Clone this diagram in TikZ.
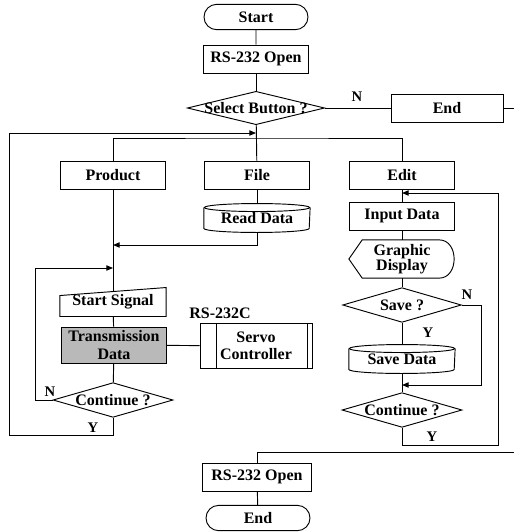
\documentclass[tikz,border=0pt]{standalone}
\usepackage{fontspec}
\setmainfont{Liberation Serif}
\usetikzlibrary{arrows.meta,calc,shapes.geometric,shapes.misc}

\tikzset{
 every node/.style={font=\bfseries\fontsize{12}{13}\selectfont},
 procbox/.style={draw,rectangle,minimum width=79pt,minimum height=21pt,inner sep=1pt},
 plainbox/.style={rectangle,minimum width=79pt,minimum height=21pt,inner sep=1pt},
 termbox/.style={draw,rounded rectangle,minimum width=80pt,minimum height=19pt,inner sep=1pt},
 decbox/.style={draw,diamond,minimum width=90pt,minimum height=26pt,inner sep=0pt},
 yn/.style={inner sep=0pt,font=\bfseries\fontsize{11}{12}\selectfont},
}

\begin{document}
\begin{tikzpicture}[x=.75pt,y=-.75pt,>={Triangle[length=5pt,width=4pt]},line width=.7pt]
 \useasboundingbox (0,0) rectangle (514,532);
 % main column
 \node[termbox] (start) at (256,17) {Start};
 \node[procbox] (open1) at (256,59) {RS-232 Open};
 \node[decbox,minimum width=103pt,minimum height=25pt,
  label=center:{Select Button ?}] (sel) at (256,108) {};
 \node[procbox,minimum width=84pt] (stop) at (447,108) {End};
 \coordinate (offr) at (514,108);
 \node[yn] (n1) at (357,97) {N};
 % branches
 \node[procbox] (prod) at (113,175) {Product};
 \node[procbox] (file) at (257,175) {File};
 \node[procbox] (edit) at (402,175) {Edit};
 \coordinate (top) at (256,138);
 % product / file branch
 \node[plainbox] (rd) at (257,218) {Read Data};
 \node[plainbox] (ssig) at (113,302) {Start Signal};
 \node[procbox,fill=gray!55,align=center,minimum height=27pt]
  (trans) at (114,345) {Transmission\\Data};
 \node[procbox,minimum width=84pt,minimum height=34pt,align=center]
  (servo) at (256,346) {Servo\\Controller};
 \node (rslab) at (220,313) {RS-232C};
 \node[decbox,label=center:{Continue ?}] (cont1) at (113,400) {};
 \node[yn] (n2) at (50,392) {N};
 \node[yn] (y1) at (93,428) {Y};
 % edit branch
 \node[procbox] (inp) at (402,216) {Input Data};
 \node[plainbox,minimum height=28pt,align=center]
  (gd) at (402,259) {Graphic\\[-2pt]Display};
 \node[decbox,minimum width=89pt,label=center:{Save ?}] (save) at (402,305) {};
 \node[yn] (n3) at (467,295) {N};
 \node[yn] (y2) at (428,333) {Y};
 \node[plainbox] (sd) at (402,359) {Save Data};
 \node[decbox,label=center:{Continue ?}] (cont2) at (402,410) {};
 \node[yn] (y3) at (432,437) {Y};
 % bottom
 \coordinate (offb) at (514,452);
 \node[procbox,minimum width=82pt] (open2) at (257,477) {RS-232 Open};
 \node[termbox] (stop2) at (258,518) {End};

 % special outlines
 \draw (ssig.south west) -- (ssig.south east) -- (ssig.north east)
  -- ([yshift=-6pt]ssig.north west) -- cycle;
 \coordinate (ssigtop) at ([yshift=-3pt]ssig.north);
 \draw ([xshift=12.5pt]servo.north west) -- ([xshift=12.5pt]servo.south west);
 \draw ([xshift=-4pt]servo.north east) -- ([xshift=-4pt]servo.south east);
 \foreach \n in {rd,sd}{
  \draw ([yshift=-3pt]\n.north west) -- ([yshift=3pt]\n.south west)
   arc[start angle=180,end angle=360,x radius=39.5pt,y radius=3pt]
   -- ([yshift=-3pt]\n.north east);
  \draw ([yshift=-3pt]\n.north) ellipse[x radius=39.5pt,y radius=3pt];
 }
 \draw (gd.west) -- ([xshift=10pt]gd.north west) -- ([xshift=-12pt]gd.north east)
  .. controls ([xshift=3pt]gd.north east) and ([xshift=3pt]gd.south east)
  .. ([xshift=-12pt]gd.south east) -- ([xshift=10pt]gd.south west) -- cycle;

 % connectors
 \draw (start) -- (open1);
 \draw (open1) -- (sel);
 \draw (sel) -- (stop);
 \draw (stop) -- (offr);
 \draw (sel) -- (file);
 \draw (prod) |- (top) -| (edit);
 \draw (file) -- (rd);
 \coordinate (j1) at (113,245);
 \coordinate (j2) at (113,268);
 \draw[->] (rd) |- (j1);
 \draw (prod) -- (ssigtop);
 \draw (ssig) -- (trans);
 \draw (trans) -- (servo);
 \draw (trans) -- (cont1);
 \draw[->] (cont1.west) -| ([xshift=-58.5pt]j2) -- (j2);
 \coordinate (lt) at (9,133);
 \draw[->] (cont1.south) -- ++(0,18) -| (lt) -- (sel.south |- lt);
 \draw (edit) -- (inp);
 \draw (inp) -- (gd);
 \draw (gd) -- (save);
 \draw (save) -- (sd);
 \draw (sd) -- (cont2);
 \coordinate (j5) at (402,385);
 \draw[->] (save.east) -- ++(20,0) |- (j5);
 \coordinate (j4) at (402,193);
 \draw[->] (cont2.south) -- ++(0,18) -| ([xshift=72pt]j4) -- (j4);
 \draw (offb) -| (open2);
 \draw (open2) -- (stop2);
\end{tikzpicture}
\end{document}
